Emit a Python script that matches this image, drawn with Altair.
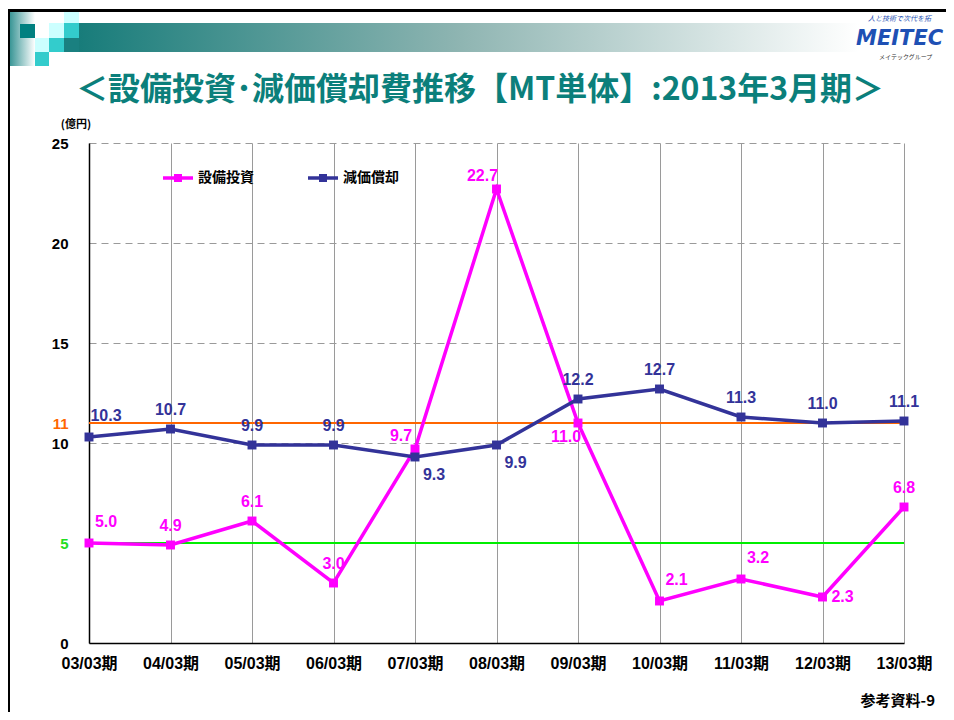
import altair as alt
import pandas as pd

# ---- data ----
periods = ["03/03期", "04/03期", "05/03期", "06/03期", "07/03期", "08/03期",
           "09/03期", "10/03期", "11/03期", "12/03期", "13/03期"]
capex = [5.0, 4.9, 6.1, 3.0, 9.7, 22.7, 11.0, 2.1, 3.2, 2.3, 6.8]
depr = [10.3, 10.7, 9.9, 9.9, 9.3, 9.9, 12.2, 12.7, 11.3, 11.0, 11.1]
series_names = ["設備投資", "減価償却"]
series_colors = ["#FF00FF", "#333399"]
ref_capex = 5
ref_depr = 11
y_ticks = [0, 5, 10, 11, 15, 20, 25]

# label placement hints (where each value label sits relative to its point)
capex_label_pos = ["ur", "up", "up", "up", "ul", "ul", "dl", "ur", "ur", "r", "up"]
depr_label_pos = ["ur", "up", "up", "up", "dr", "dr", "up", "up", "up", "up", "up"]
OFFSETS = {"up": (0, -19), "ur": (17, -21), "ul": (-14, -13),
           "dl": (-12, 14), "dr": (19, 18), "r": (20, 0)}

FONT = "Liberation Sans, Noto Sans CJK JP"
JFONT = "Noto Sans CJK JP"

rows = []
for s, vals, pos in [(series_names[0], capex, capex_label_pos),
                     (series_names[1], depr, depr_label_pos)]:
    for p, v, ps in zip(periods, vals, pos):
        rows.append({"period": p, "series": s, "value": v,
                     "label": f"{v:.1f}", "pos": ps})
df = pd.DataFrame(rows)

W, H = 815, 500

x_enc = alt.X("period:N", sort=periods,
              scale=alt.Scale(type="point", padding=0),
              axis=alt.Axis(title=None, labelAngle=0, labelFont=FONT,
                            labelFontSize=16, labelFontWeight="bold",
                            labelColor="black", labelPadding=12, ticks=False,
                            domainColor="black", domainWidth=1.5,
                            grid=True, gridColor="#9a9a9a", gridWidth=1))
y_enc = alt.Y("value:Q",
              scale=alt.Scale(domain=[0, 25], nice=False, zero=True),
              axis=alt.Axis(title=None, values=y_ticks, labelFont=FONT,
                            labelFontSize=15, labelFontWeight="bold",
                            labelColor=alt.ExprRef(expr="datum.value == 5 ? '#22dd22' : (datum.value == 11 ? '#ff6600' : 'black')"),
                            labelPadding=21, ticks=False, domainColor="black",
                            domainWidth=1.5, grid=True, gridColor="#9a9a9a",
                            gridDash=[7, 5], gridWidth=1))

color_scale = alt.Scale(domain=series_names, range=series_colors)

ref_df = pd.DataFrame({"value": [ref_capex, ref_depr],
                       "kind": ["capex", "depr"]})
rule_green = alt.Chart(ref_df).transform_filter(alt.datum.kind == "capex").mark_rule(
    color="#00EE00", strokeWidth=2).encode(y=y_enc)
rule_orange = alt.Chart(ref_df).transform_filter(alt.datum.kind == "depr").mark_rule(
    color="#FF6600", strokeWidth=2).encode(y=y_enc)

lines = alt.Chart(df).mark_line(strokeWidth=3.5).encode(
    x=x_enc, y=y_enc,
    color=alt.Color("series:N", scale=color_scale, legend=None),
    detail="series:N")

points = alt.Chart(df).mark_point(shape="square", filled=True, size=80,
                                  opacity=1).encode(
    x=x_enc, y=y_enc,
    color=alt.Color("series:N", scale=color_scale, legend=None))

label_layers = []
for key, (dx, dy) in OFFSETS.items():
    label_layers.append(
        alt.Chart(df).transform_filter(alt.datum.pos == key).mark_text(
            dx=dx, dy=dy, font=FONT, fontSize=16, fontWeight="bold",
            align="center", baseline="middle").encode(
            x=x_enc, y=y_enc, text="label:N",
            color=alt.Color("series:N", scale=color_scale, legend=None)))

# ---- legend (drawn inside the plot, as in the reference) ----
one = pd.DataFrame({"d": [0]})
legend_layers = []
for i, (name, col) in enumerate(zip(series_names, series_colors)):
    x0 = 74 + i * 145
    legend_layers.append(alt.Chart(one).mark_rule(color=col, strokeWidth=3.5).encode(
        x=alt.value(x0), x2=alt.value(x0 + 30), y=alt.value(35)))
    legend_layers.append(alt.Chart(one).mark_square(color=col, size=64, opacity=1).encode(
        x=alt.value(x0 + 15), y=alt.value(35)))
    legend_layers.append(alt.Chart(one).mark_text(
        text=name, font=JFONT, fontSize=14, fontWeight="bold", color="black",
        align="left", baseline="middle").encode(x=alt.value(x0 + 35), y=alt.value(35)))

# ---- slide decoration (page furniture, not data) ----
deco = []
# black frame
deco.append(alt.Chart(one).mark_rect(color="black").encode(
    x=alt.value(-82), x2=alt.value(880), y=alt.value(-134), y2=alt.value(-131)))
deco.append(alt.Chart(one).mark_rect(color="black").encode(
    x=alt.value(-81), x2=alt.value(-79), y=alt.value(-134), y2=alt.value(570)))
# left gradient strip
deco.append(alt.Chart(one).mark_rect(color=alt.Gradient(
    gradient="linear", x1=0, x2=1, y1=0, y2=0,
    stops=[alt.GradientStop(color="#3a9696", offset=0),
           alt.GradientStop(color="#ffffff", offset=1)])).encode(
    x=alt.value(-79), x2=alt.value(-54), y=alt.value(-131), y2=alt.value(-77)))
# main gradient bar
deco.append(alt.Chart(one).mark_rect(color=alt.Gradient(
    gradient="linear", x1=0, x2=1, y1=0, y2=0,
    stops=[alt.GradientStop(color="#137a78", offset=0),
           alt.GradientStop(color="#8fb5b2", offset=0.5),
           alt.GradientStop(color="#ffffff", offset=1)])).encode(
    x=alt.value(-25), x2=alt.value(770), y=alt.value(-120), y2=alt.value(-91)))
# checker squares
squares = [(-69, -54, -119, -105, "#008080"),
           (-25, -10, -131, -120, "#ccffff"),
           (-25, -10, -120, -105, "#33cccc"),
           (-40, -25, -120, -105, "#ccffff"),
           (-54, -40, -105, -91, "#ccffff"),
           (-40, -25, -105, -91, "#33cccc"),
           (-25, -10, -105, -91, "#1a8080"),
           (-54, -40, -91, -77, "#33cccc")]
for x1, x2, y1, y2, c in squares:
    deco.append(alt.Chart(one).mark_rect(color=c).encode(
        x=alt.value(x1), x2=alt.value(x2), y=alt.value(y1), y2=alt.value(y2)))
# logo
deco.append(alt.Chart(one).mark_text(text="MEITEC", font="DejaVu Sans",
                                     fontSize=21, fontWeight="bold",
                                     fontStyle="italic", color="#1E50B4",
                                     align="left", baseline="middle").encode(
    x=alt.value(767), y=alt.value(-104)))
deco.append(alt.Chart(one).mark_text(text="人と技術で次代を拓", font=JFONT,
                                     fontSize=7, fontStyle="italic",
                                     color="#1E50B4", align="left",
                                     baseline="middle").encode(
    x=alt.value(779), y=alt.value(-124)))
deco.append(alt.Chart(one).mark_text(text="メイテックグループ", font=JFONT,
                                     fontSize=6, color="#333333", align="left",
                                     baseline="middle").encode(
    x=alt.value(790), y=alt.value(-86)))
# title
deco.append(alt.Chart(one).mark_text(
    text="＜設備投資･減価償却費推移【MT単体】:2013年3月期＞", font=JFONT,
    fontSize=32, fontWeight="bold", color="#0B7F7B", align="center",
    baseline="middle").encode(x=alt.value(391), y=alt.value(-53)))
# unit label
deco.append(alt.Chart(one).mark_text(text="(億円)", font=JFONT, fontSize=11,
                                     fontWeight="bold", color="black",
                                     align="center", baseline="middle").encode(
    x=alt.value(-13), y=alt.value(-18)))
# footer
deco.append(alt.Chart(one).mark_text(text="参考資料-9", font=JFONT, fontSize=15,
                                     fontWeight="bold", color="black",
                                     align="right", baseline="middle").encode(
    x=alt.value(846), y=alt.value(558)))

chart = alt.layer(
    rule_green, rule_orange, lines, points, *label_layers, *legend_layers, *deco
).properties(
    width=W, height=H, autosize="none",
    padding={"left": 81, "top": 135, "right": 42, "bottom": 69},
    background="white"
).configure_view(stroke=None)

chart.save("out.html", embed_options={"renderer": "svg", "actions": False})
